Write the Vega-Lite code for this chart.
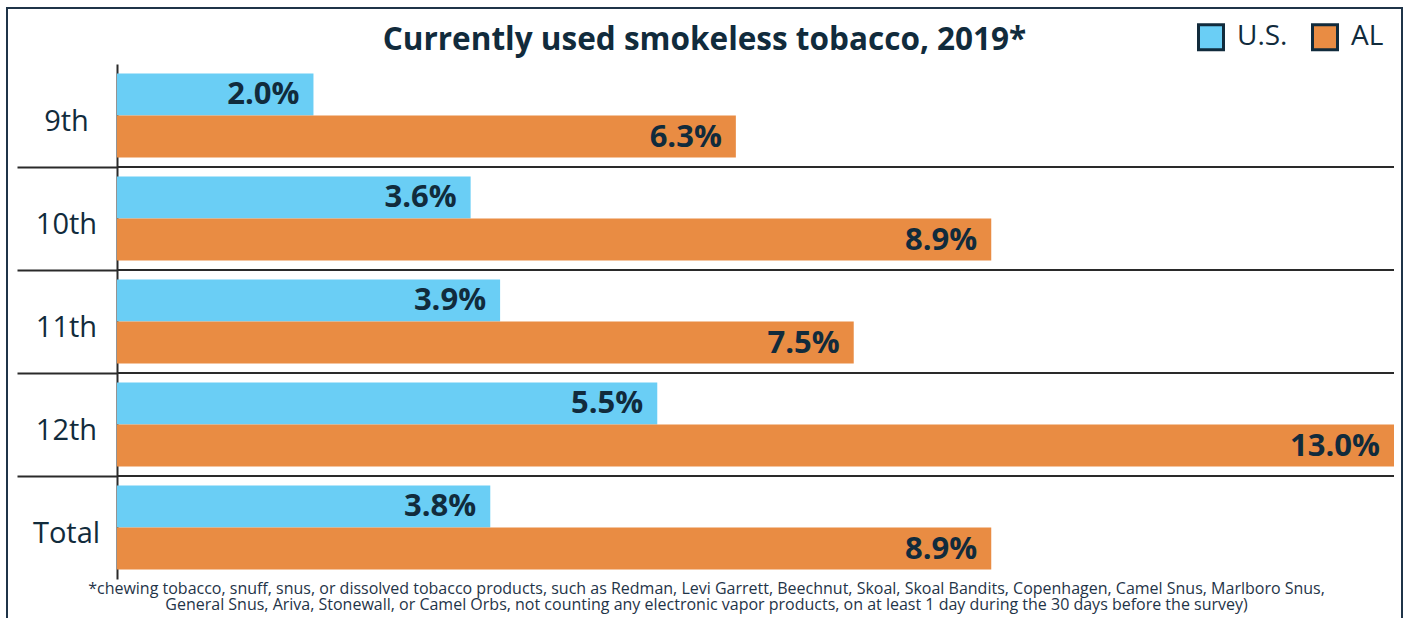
{
  "$schema": "https://vega.github.io/schema/vega-lite/v6.json",
  "autosize": "none",
  "width": 1395,
  "height": 620,
  "padding": {"left": 7, "top": 8, "right": 3, "bottom": 0},
  "background": "white",
  "config": {
    "view": {"stroke": "#1f3448", "strokeWidth": 2},
    "font": "Open Sans"
  },
  "title": {
    "text": "Currently used smokeless tobacco, 2019*",
    "font": "Open Sans",
    "fontSize": 31.5,
    "fontWeight": "bold",
    "color": "#112b3c",
    "anchor": "middle",
    "offset": -62
  },
  "datasets": {
    "bars": [
      {"grade": "9th", "series": "U.S.", "value": 0.020},
      {"grade": "9th", "series": "AL", "value": 0.063},
      {"grade": "10th", "series": "U.S.", "value": 0.036},
      {"grade": "10th", "series": "AL", "value": 0.089},
      {"grade": "11th", "series": "U.S.", "value": 0.039},
      {"grade": "11th", "series": "AL", "value": 0.075},
      {"grade": "12th", "series": "U.S.", "value": 0.055},
      {"grade": "12th", "series": "AL", "value": 0.130},
      {"grade": "Total", "series": "U.S.", "value": 0.038},
      {"grade": "Total", "series": "AL", "value": 0.089}
    ],
    "separators": [
      {"grade": "9th"},
      {"grade": "10th"},
      {"grade": "11th"},
      {"grade": "12th"}
    ]
  },
  "layer": [
    {
      "data": {"name": "bars"},
      "mark": {"type": "bar"},
      "encoding": {
        "y": {
          "field": "grade",
          "type": "nominal",
          "sort": null,
          "scale": {
            "domain": ["9th", "10th", "11th", "12th", "Total"],
            "range": [56, 571],
            "paddingInner": 0,
            "paddingOuter": 0
          },
          "axis": {
            "orient": "left",
            "offset": -110,
            "title": null,
            "domain": true,
            "domainColor": "#2a2a2a",
            "domainWidth": 2,
            "ticks": true,
            "tickBand": "extent",
            "tickSize": 100,
            "tickWidth": 2,
            "tickColor": "#2a2a2a",
            "tickOpacity": {"condition": {"test": "datum.value === 'Total' || datum.index < 0 || datum.value == null", "value": 0}, "value": 1},
            "grid": false,
            "labelFont": "Open Sans",
            "labelFontSize": 29,
            "labelColor": "#112b3c",
            "labelAlign": "center",
            "labelBaseline": "middle",
            "labelPadding": -49,
            "labelOffset": 6
          }
        },
        "yOffset": {
          "field": "series",
          "type": "nominal",
          "sort": ["U.S.", "AL"],
          "scale": {"domain": ["U.S.", "AL"], "paddingInner": 0, "paddingOuter": 0.226}
        },
        "x": {
          "field": "value",
          "type": "quantitative",
          "scale": {"domain": [0, 0.13], "range": [110, 1387], "nice": false, "zero": true},
          "axis": {
            "orient": "bottom",
            "domain": false,
            "ticks": false,
            "labels": false,
            "grid": false,
            "title": [
              "*chewing tobacco, snuff, snus, or dissolved tobacco products, such as Redman, Levi Garrett, Beechnut, Skoal, Skoal Bandits, Copenhagen, Camel Snus, Marlboro Snus,",
              "General Snus, Ariva, Stonewall, or Camel Orbs, not counting any electronic vapor products, on at least 1 day during the 30 days before the survey)"
            ],
            "titleFont": "Open Sans",
            "titleFontSize": 16,
            "titleFontWeight": "normal",
            "titleColor": "#1f3448",
            "titleAlign": "center",
            "titleBaseline": "top",
            "titleLineHeight": 16.5,
            "titleX": 699,
            "titleY": -48
          }
        },
        "color": {
          "field": "series",
          "type": "nominal",
          "scale": {"domain": ["U.S.", "AL"], "range": ["#6ACEF5", "#E98C43"]},
          "legend": {
            "orient": "none",
            "legendX": 1190,
            "legendY": 15,
            "direction": "horizontal",
            "title": null,
            "symbolType": "square",
            "symbolSize": 625,
            "symbolStrokeWidth": 3,
            "symbolStrokeColor": "#112b3c",
            "symbolOpacity": 1,
            "labelFont": "Open Sans",
            "labelFontSize": 28,
            "labelColor": "#112b3c",
            "labelOffset": 12,
            "columnPadding": 18,
            "padding": 0
          }
        }
      }
    },
    {
      "data": {"name": "bars"},
      "mark": {"type": "text", "align": "right", "baseline": "middle", "dx": -14, "dy": 1, "font": "Open Sans", "fontSize": 31, "fontWeight": "bold", "color": "#112b3c"},
      "encoding": {
        "y": {"field": "grade", "type": "nominal", "sort": null},
        "yOffset": {"field": "series", "type": "nominal", "sort": ["U.S.", "AL"]},
        "x": {"field": "value", "type": "quantitative"},
        "text": {"field": "value", "type": "quantitative", "format": ".1%"}
      }
    },
    {
      "data": {"name": "separators"},
      "mark": {"type": "rule", "color": "#2a2a2a", "strokeWidth": 2},
      "encoding": {
        "y": {"field": "grade", "type": "nominal", "bandPosition": 1},
        "x": {"datum": 0},
        "x2": {"datum": 0.13}
      }
    }
  ]
}
